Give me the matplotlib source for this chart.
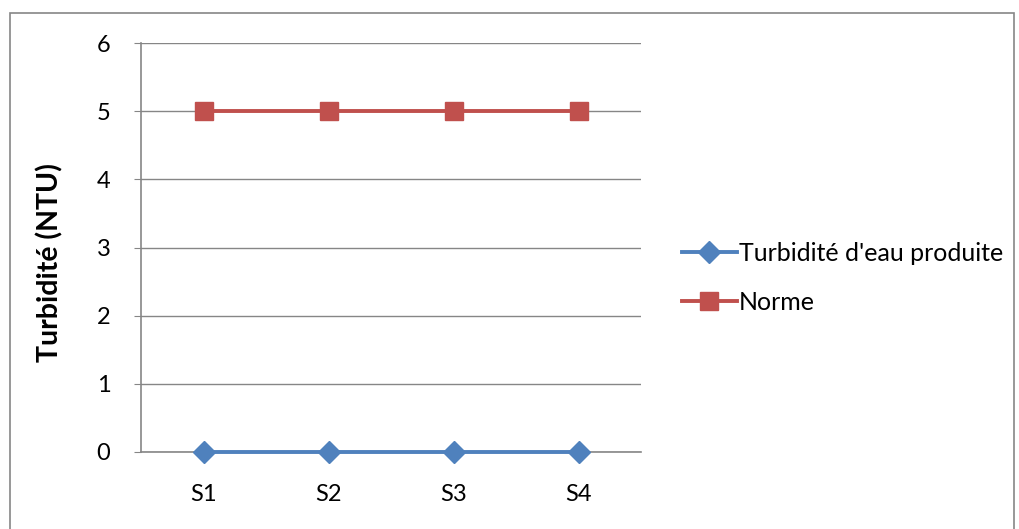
import matplotlib
matplotlib.use("Agg")
import matplotlib.pyplot as plt
from matplotlib.patches import Rectangle

categories = ["S1", "S2", "S3", "S4"]
turbidite = [0, 0, 0, 0]
norme = [5, 5, 5, 5]
yticks = [0, 1, 2, 3, 4, 5, 6]

plt.rcParams['font.family'] = ['Lato', 'DejaVu Sans']

fig = plt.figure(figsize=(10.19, 5.29), dpi=100)
W, H = 1019, 529
ax = fig.add_axes([141 / W, 1 - 452 / H, 500 / W, (452 - 43) / H])

x = list(range(len(categories)))
ax.plot(x, turbidite, color="#4F81BD", lw=2.8, marker="D", ms=11.5,
        markeredgecolor="#4F81BD", label="Turbidité d'eau produite", zorder=3, clip_on=False)
ax.plot(x, norme, color="#C0504D", lw=2.8, marker="s", ms=13,
        markeredgecolor="#C0504D", label="Norme", zorder=3, clip_on=False)

ax.set_xlim(-0.5, 3.5)
ax.set_ylim(0, 6)
ax.set_yticks(yticks)
ax.set_xticks(x)
ax.set_xticklabels(categories)
ax.grid(axis="y", color="#868686", lw=1)
ax.set_axisbelow(True)
for s in ["top", "right"]:
    ax.spines[s].set_visible(False)
for s in ["left", "bottom"]:
    ax.spines[s].set_color("#868686")
    ax.spines[s].set_linewidth(1.2)
ax.tick_params(axis="y", length=5, color="#868686", labelsize=17, pad=17)
ax.tick_params(axis="x", length=0, labelsize=17, pad=23)
ax.set_ylabel("Turbidité (NTU)", fontsize=20.5, fontweight="bold")
ax.yaxis.set_label_coords(-0.156, 0.462)

leg = fig.legend(loc="center left", bbox_to_anchor=(659 / W, 1 - 278 / H),
                 frameon=False, fontsize=18, handlelength=2.2, handletextpad=0.1,
                 labelspacing=1.05)

fig.patches.append(Rectangle((10 / W, -0.01), (1014 - 10) / W, 1 - 13 / H + 0.01,
                             transform=fig.transFigure, fill=False,
                             edgecolor="#868686", lw=1.2))

fig.savefig("out.png", dpi=100)
